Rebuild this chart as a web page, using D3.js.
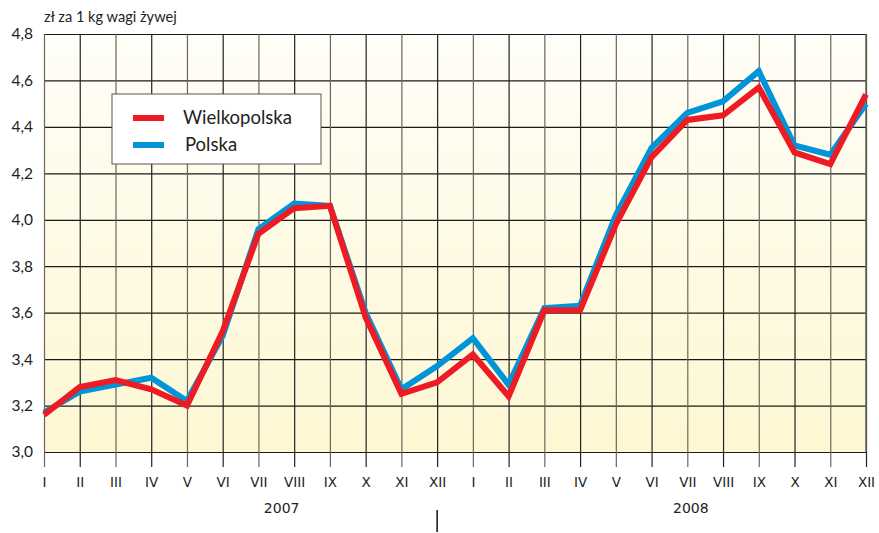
<!DOCTYPE html>
<html>
<head>
<meta charset="utf-8">
<script src="https://cdn.jsdelivr.net/npm/d3@7"></script>
<style>
  body { margin: 0; background: #fff; }
  svg { display: block; }
</style>
</head>
<body>
<div id="chart"></div>
<script>
// months, two years side by side
const months = ["I","II","III","IV","V","VI","VII","VIII","IX","X","XI","XII",
                "I","II","III","IV","V","VI","VII","VIII","IX","X","XI","XII"];
const years = ["2007", "2008"];
const wielkopolska = [3.16, 3.28, 3.31, 3.27, 3.20, 3.52, 3.94, 4.05, 4.06, 3.58, 3.25, 3.30,
                      3.42, 3.24, 3.61, 3.61, 3.98, 4.27, 4.43, 4.45, 4.57, 4.29, 4.24, 4.54];
const polska = [3.17, 3.26, 3.29, 3.32, 3.22, 3.50, 3.96, 4.07, 4.06, 3.60, 3.27, 3.37,
                3.49, 3.29, 3.62, 3.63, 4.02, 4.31, 4.46, 4.51, 4.64, 4.32, 4.28, 4.50];
const yTicks = [3.0, 3.2, 3.4, 3.6, 3.8, 4.0, 4.2, 4.4, 4.6, 4.8];
const yLabel = "zł za 1 kg wagi żywej";
const seriesNames = ["Wielkopolska", "Polska"];

const W = 879, H = 533;
const margin = {top: 34, right: 13, bottom: 81, left: 44};
const width = W - margin.left - margin.right;
const height = H - margin.top - margin.bottom;

const svg = d3.select("#chart").append("svg")
    .attr("width", W).attr("height", H);

const grad = svg.append("defs").append("linearGradient")
    .attr("id", "bg").attr("x1", 0).attr("y1", 0).attr("x2", 0).attr("y2", 1);
grad.append("stop").attr("offset", "0%").attr("stop-color", "#fffef8");
grad.append("stop").attr("offset", "100%").attr("stop-color", "#fdf7d2");

const g = svg.append("g")
    .attr("transform", "translate(" + margin.left + "," + margin.top + ")");

const x = d3.scaleLinear().domain([0, months.length - 1]).range([0, width]);
const y = d3.scaleLinear().domain([3.0, 4.8]).range([height, 0]);

g.append("rect")
    .attr("width", width).attr("height", height)
    .attr("fill", "url(#bg)");

// horizontal grid + y labels
const yAxis = g.append("g")
    .call(d3.axisLeft(y).tickValues(yTicks).tickSize(-width)
        .tickFormat(d => d3.format(".1f")(d).replace(".", ",")));
yAxis.select(".domain").remove();
yAxis.selectAll(".tick line").attr("stroke", "#1a1a1a").attr("stroke-width", 1.2);
yAxis.selectAll(".tick text")
    .attr("x", -11)
    .attr("fill", "#222")
    .style("font-family", "Lato, 'Open Sans', sans-serif")
    .style("font-size", "15.5px");

// vertical grid, extended below the plot as ticks
const tickLen = 15;
const xAxis = g.append("g")
    .attr("transform", "translate(0," + (height + tickLen) + ")")
    .call(d3.axisBottom(x).tickValues(d3.range(months.length))
        .tickSizeInner(-(height + tickLen)).tickSizeOuter(0).tickPadding(10)
        .tickFormat(i => months[i]));
xAxis.select(".domain").remove();
xAxis.selectAll(".tick line")
    .attr("stroke", (d, i) => i % 2 ? "#222" : "#6b6659")
    .attr("stroke-width", 1.2);
xAxis.selectAll(".tick text")
    .attr("fill", "#222")
    .style("font-family", "'DejaVu Sans', sans-serif")
    .style("font-size", "13.5px");

// right border
g.append("line")
    .attr("x1", width).attr("x2", width).attr("y1", 0).attr("y2", height)
    .attr("stroke", "#6b6659").attr("stroke-width", 1.5);

// year labels and separator
const yearPos = [x(6.65), x(18.1)];
g.selectAll(".year").data(years).enter().append("text")
    .attr("x", (d, i) => yearPos[i])
    .attr("y", height + 61)
    .attr("text-anchor", "middle")
    .attr("fill", "#222")
    .style("font-family", "'DejaVu Sans', sans-serif")
    .style("font-size", "14px")
    .text(d => d);
g.append("line")
    .attr("x1", x(11)).attr("x2", x(11))
    .attr("y1", height + 58).attr("y2", height + 80)
    .attr("stroke", "#111").attr("stroke-width", 1.5);

// axis title
svg.append("text")
    .attr("x", 44).attr("y", 22)
    .attr("fill", "#222")
    .style("font-family", "Lato, 'Open Sans', sans-serif")
    .style("font-size", "14.6px")
    .text(yLabel);

// lines
const line = d3.line()
    .x((d, i) => x(i))
    .y(d => y(d));
const colors = ["#ed1c24", "#0094d9"];
g.append("path").datum(polska)
    .attr("fill", "none").attr("stroke", colors[1])
    .attr("stroke-width", 6).attr("stroke-linejoin", "miter")
    .attr("d", line);
g.append("path").datum(wielkopolska)
    .attr("fill", "none").attr("stroke", colors[0])
    .attr("stroke-width", 6).attr("stroke-linejoin", "miter")
    .attr("d", line);

// legend
const lg = svg.append("g").attr("transform", "translate(112,94)");
lg.append("rect")
    .attr("width", 209).attr("height", 70)
    .attr("fill", "#fff").attr("stroke", "#555").attr("stroke-width", 1);
seriesNames.forEach((name, i) => {
  lg.append("line")
      .attr("x1", 21).attr("x2", 52)
      .attr("y1", 24 + i * 27).attr("y2", 24 + i * 27)
      .attr("stroke", colors[i]).attr("stroke-width", 6);
  lg.append("text")
      .attr("x", 71 + i * 2).attr("y", 30 + i * 27)
      .attr("fill", "#222")
      .style("font-family", "Lato, 'Open Sans', sans-serif")
      .style("font-size", "18.5px")
      .text(name);
});
</script>
</body>
</html>
